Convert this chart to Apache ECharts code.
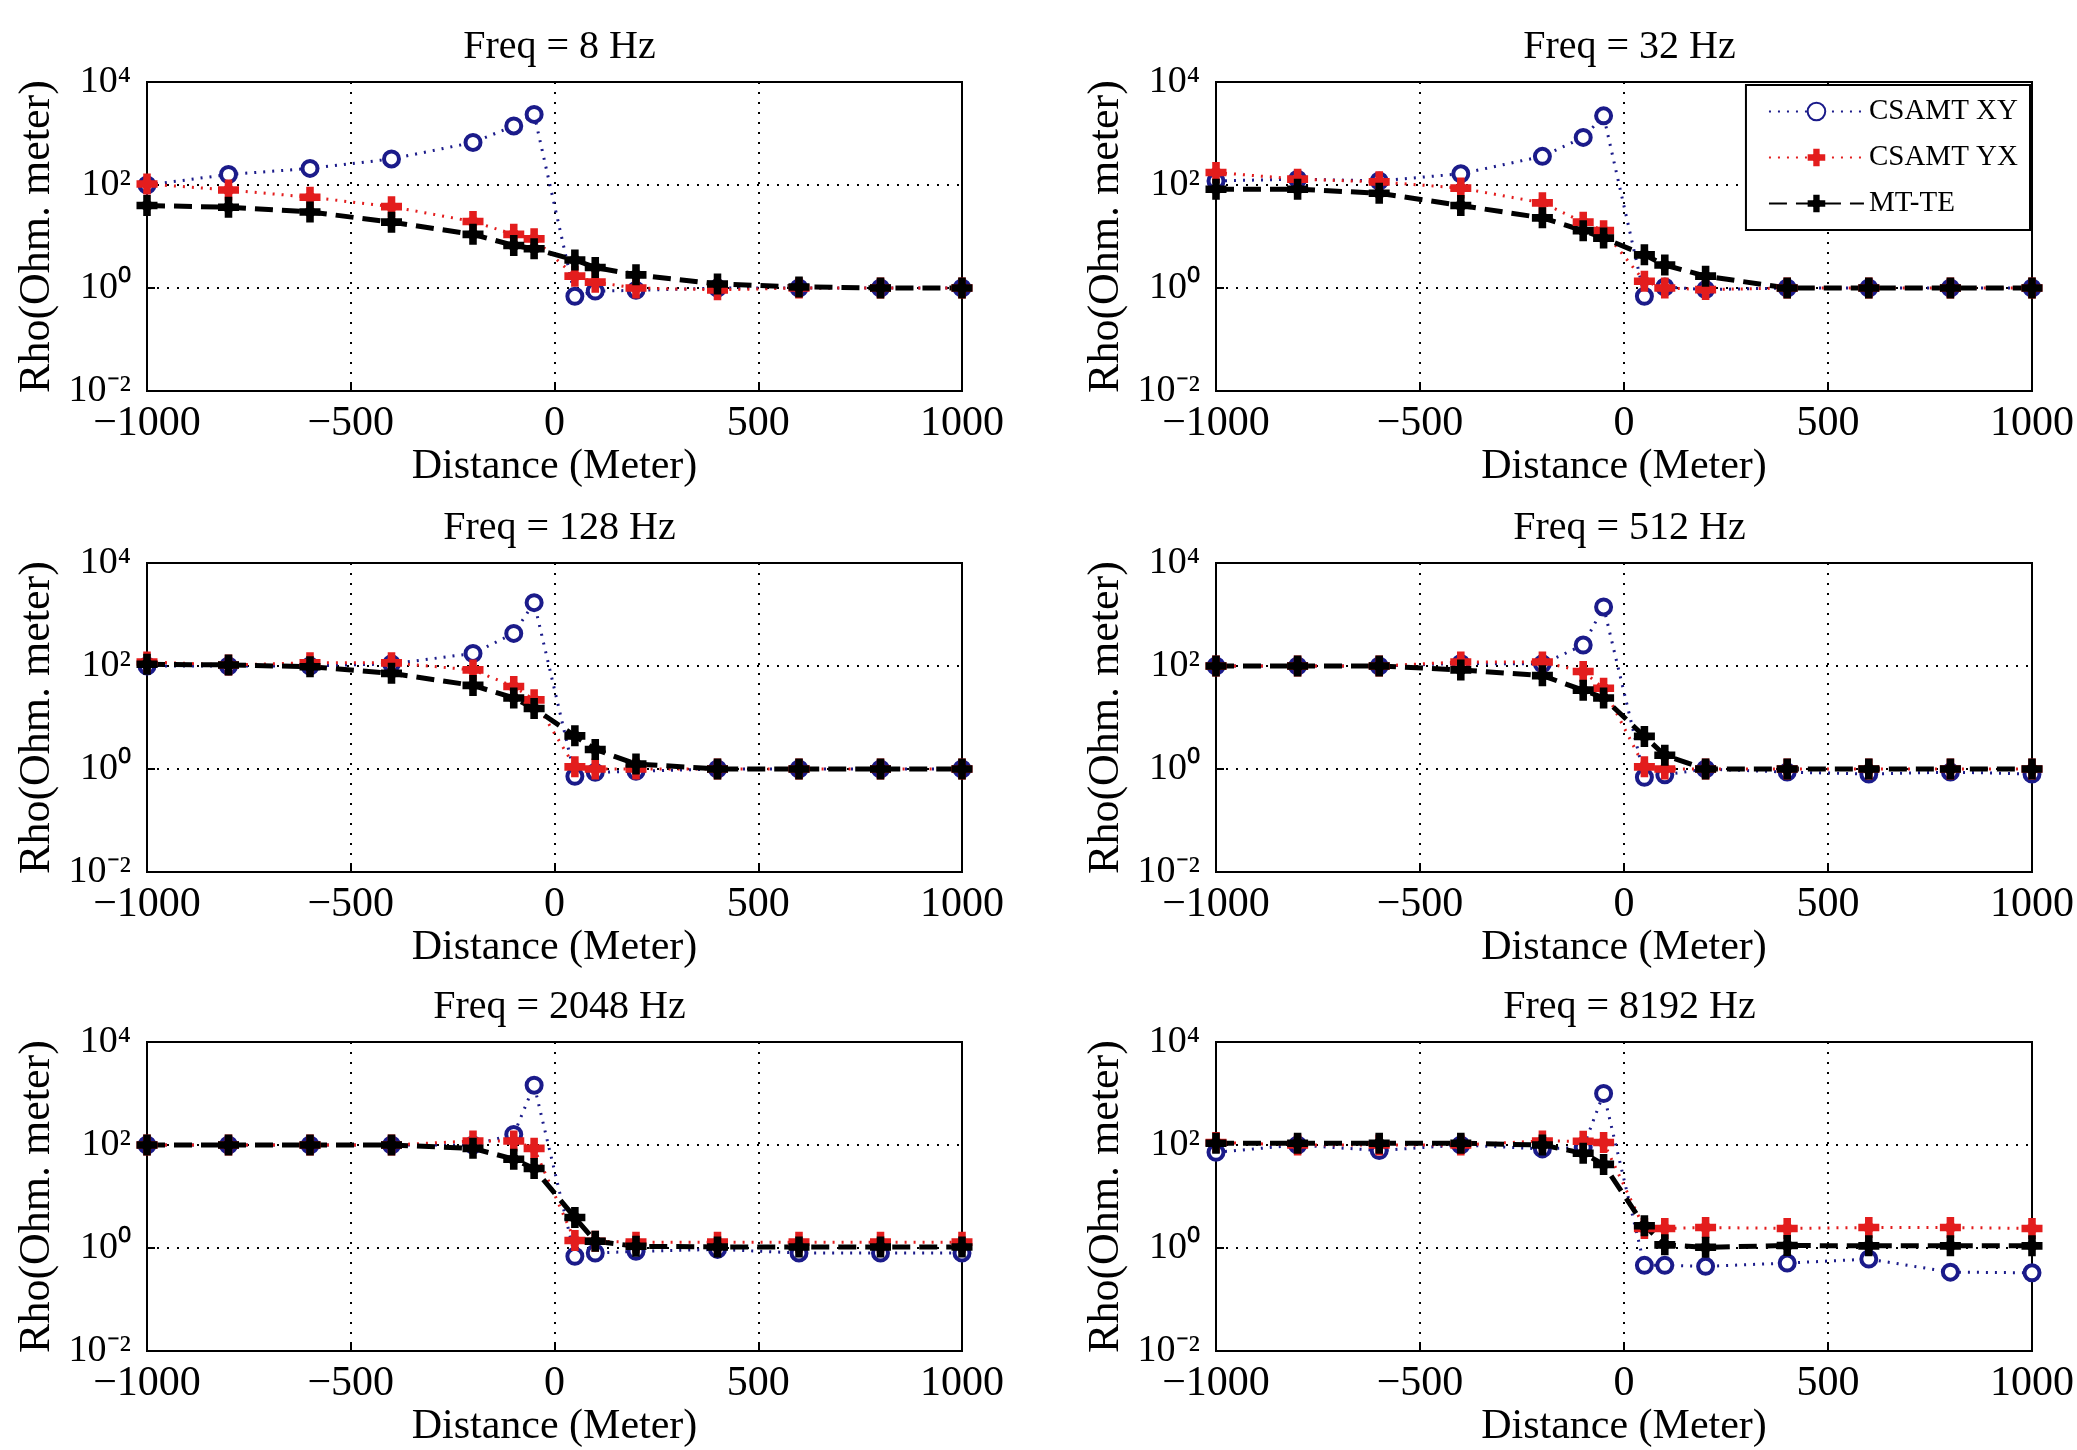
<!DOCTYPE html>
<html>
<head>
<meta charset="utf-8">
<title>CSAMT vs MT-TE apparent resistivity</title>
<script src="https://cdn.jsdelivr.net/npm/echarts@6/dist/echarts.min.js"></script>
<style>
  html, body { margin: 0; padding: 0; background: #fff; }
  #chart { width: 2077px; height: 1450px; }
</style>
</head>
<body>
<div id="chart"></div>
<script>
// Station distances (m), shared by every panel
const dist = [-1000, -800, -600, -400, -200, -100, -50, 50, 100, 200, 400, 600, 800, 1000];

// Apparent resistivity (Ohm.m), one set per frequency
const xy8 = [100, 160, 210, 320, 670, 1400, 2350, 0.69, 0.87, 0.9, 1.0, 1.0, 1.0, 1.0];
const yx8 = [105, 80, 58, 38, 19.5, 11, 9, 1.7, 1.3, 1.0, 0.92, 1.0, 1.0, 1.0];
const te8 = [40, 37, 30, 19, 11, 6.7, 5.8, 3.5, 2.5, 1.8, 1.2, 1.05, 1.0, 1.0];

const xy32 = [120, 130, 120, 165, 360, 840, 2200, 0.69, 1.05, 0.93, 1.0, 1.0, 1.0, 1.0];
const yx32 = [175, 130, 115, 87, 45, 19, 13, 1.35, 1.0, 0.93, 1.0, 1.0, 1.0, 1.0];
const te32 = [83, 83, 69, 40, 23, 13, 9.3, 4.4, 2.8, 1.7, 1.0, 1.0, 1.0, 1.0];

const xy128 = [100, 100, 100, 110, 175, 430, 1700, 0.72, 0.86, 0.9, 1.0, 1.0, 1.0, 1.0];
const yx128 = [120, 105, 115, 115, 84, 40, 22, 1.1, 1.0, 1.0, 1.0, 1.0, 1.0, 1.0];
const te128 = [108, 105, 97, 72, 42, 24, 15, 4.4, 2.4, 1.25, 1.0, 1.0, 1.0, 1.0];

const xy512 = [100, 100, 100, 112, 110, 255, 1400, 0.69, 0.77, 1.0, 0.87, 0.8, 0.87, 0.8];
const yx512 = [100, 100, 100, 120, 120, 78, 37, 1.1, 1.0, 1.0, 1.0, 1.0, 1.0, 1.0];
const te512 = [100, 100, 100, 84, 65, 34, 24, 4.3, 1.85, 1.0, 1.0, 1.0, 1.0, 1.0];

const xy2048 = [100, 100, 100, 100, 100, 160, 1450, 0.69, 0.8, 0.86, 0.94, 0.8, 0.8, 0.8];
const yx2048 = [100, 100, 100, 100, 120, 120, 86, 1.4, 1.35, 1.3, 1.3, 1.3, 1.3, 1.3];
const te2048 = [100, 100, 100, 100, 86, 53, 35, 3.9, 1.35, 1.08, 1.05, 1.05, 1.05, 1.05];

const xy8192 = [72, 100, 78, 100, 84, 90, 1000, 0.46, 0.46, 0.44, 0.51, 0.61, 0.34, 0.33];
const yx8192 = [112, 100, 100, 100, 120, 118, 112, 2.4, 2.4, 2.5, 2.4, 2.5, 2.5, 2.4];
const te8192 = [108, 108, 108, 108, 100, 69, 42, 2.7, 1.15, 1.03, 1.12, 1.1, 1.1, 1.1];

const freqs = [8, 32, 128, 512, 2048, 8192];
const xyAll = [xy8, xy32, xy128, xy512, xy2048, xy8192];
const yxAll = [yx8, yx32, yx128, yx512, yx2048, yx8192];
const teAll = [te8, te32, te128, te512, te2048, te8192];

const seriesNames = ["CSAMT XY", "CSAMT YX", "MT-TE"];

// layout of the 3x2 panels
const colLeft = [147, 1216];
const colWidth = [815, 817];
const rowTop = [82, 563, 1042];
const plotHeight = 309;

const FONT = "'Liberation Serif', 'Times New Roman', serif";
const BLUE = "#1b1b8a";
const RED = "#e31d1d";
const BLACK = "#000000";

// chunky MATLAB-ish '*' marker: plus + diamond, filled
const starMark = "path://M-1,-0.36L1,-0.36L1,0.36L-1,0.36Z M-0.36,-1L0.36,-1L0.36,1L-0.36,1Z M0,-0.78L0.78,0L0,0.78L-0.78,0Z";

const pairs = (ys) => dist.map((d, i) => [d, ys[i]]);

const supMap = { "-": "\u207B", "0": "\u2070", "1": "\u00B9", "2": "\u00B2", "3": "\u00B3", "4": "\u2074" };

const grids = [], xAxes = [], yAxes = [], titles = [], series = [];

freqs.forEach((f, k) => {
    const col = k % 2, row = Math.floor(k / 2);
    const left = colLeft[col], top = rowTop[row], w = colWidth[col];

    grids.push({
        left, top, width: w, height: plotHeight,
        show: true, borderColor: "#000", borderWidth: 2, backgroundColor: "#fff"
    });

    titles.push({
        text: "Freq = " + f + " Hz",
        left: left + w / 2,
        top: top - 60,
        textAlign: "center",
        textStyle: { fontFamily: FONT, fontSize: 40, fontWeight: "normal", color: "#000" }
    });

    xAxes.push({
        type: "value", gridIndex: k,
        min: -1000, max: 1000, interval: 500,
        name: "Distance (Meter)", nameLocation: "middle", nameGap: 52,
        nameTextStyle: { fontFamily: FONT, fontSize: 42, color: "#000" },
        axisLine: { onZero: false, lineStyle: { color: "#000", width: 2 } },
        axisTick: { inside: true, length: 8, lineStyle: { color: "#000", width: 2 } },
        axisLabel: {
            fontFamily: FONT, fontSize: 42, color: "#000", margin: 12,
            formatter: (v) => v < 0 ? "\u2212" + Math.abs(v) : String(v)
        },
        splitLine: { show: true, lineStyle: { color: "#000", width: 2, type: [2, 8] } }
    });

    yAxes.push({
        type: "log", logBase: 10, gridIndex: k,
        min: 0.01, max: 10000, interval: 2,
        name: "Rho(Ohm. meter)", nameLocation: "middle", nameGap: 88,
        nameTextStyle: { fontFamily: FONT, fontSize: 44, color: "#000" },
        axisLine: { onZero: false, lineStyle: { color: "#000", width: 2 } },
        axisTick: { inside: true, length: 8, lineStyle: { color: "#000", width: 2 } },
        axisLabel: {
            fontFamily: FONT, fontSize: 38, color: "#000", margin: 16,
            formatter: (v) => {
                const e = String(Math.round(Math.log10(v)));
                return "10" + e.split("").map(c => supMap[c]).join("");
            }
        },
        splitLine: { show: true, lineStyle: { color: "#000", width: 2, type: [2, 8] } },
        minorTick: { show: false }
    });

    series.push({
        name: seriesNames[0], type: "line", xAxisIndex: k, yAxisIndex: k,
        data: pairs(xyAll[k]),
        symbol: "circle", symbolSize: 15,
        itemStyle: { color: "#fff", borderColor: BLUE, borderWidth: 4 },
        lineStyle: { color: BLUE, width: 3, type: [2, 7] },
        animation: false
    });
    series.push({
        name: seriesNames[1], type: "line", xAxisIndex: k, yAxisIndex: k,
        data: pairs(yxAll[k]),
        symbol: starMark, symbolSize: 21,
        itemStyle: { color: RED },
        lineStyle: { color: RED, width: 3, type: [2, 7] },
        animation: false
    });
    series.push({
        name: seriesNames[2], type: "line", xAxisIndex: k, yAxisIndex: k,
        data: pairs(teAll[k]),
        symbol: starMark, symbolSize: 21,
        itemStyle: { color: BLACK },
        lineStyle: { color: BLACK, width: 5, type: [18, 9] },
        animation: false
    });
});

const chart = echarts.init(document.getElementById("chart"), null, { renderer: "canvas" });
chart.setOption({
    backgroundColor: "#fff",
    animation: false,
    title: titles,
    grid: grids,
    xAxis: xAxes,
    yAxis: yAxes,
    legend: {
        data: seriesNames,
        orient: "vertical",
        right: 47, top: 85,
        width: 295,
        backgroundColor: "#fff",
        borderColor: "#000", borderWidth: 2,
        padding: [12, 12, 12, 22],
        itemGap: 17, itemWidth: 95, itemHeight: 22,
        textStyle: { fontFamily: FONT, fontSize: 29, color: "#000" }
    },
    series
});
</script>
</body>
</html>
